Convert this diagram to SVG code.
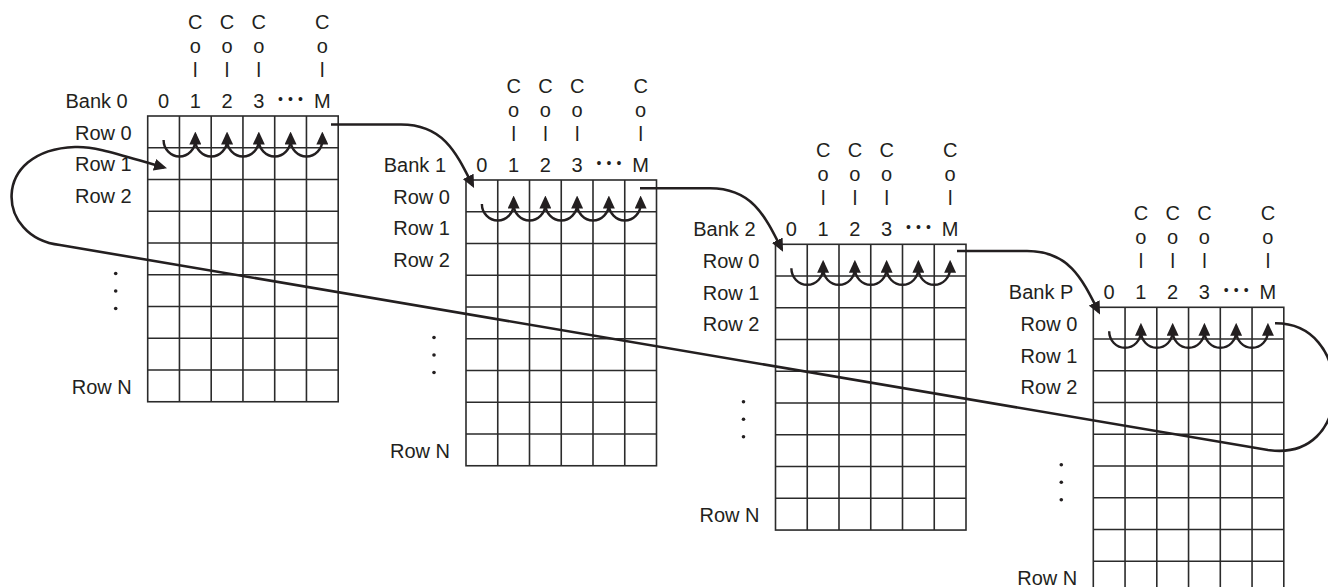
<svg xmlns="http://www.w3.org/2000/svg" xmlns:xlink="http://www.w3.org/1999/xlink" width="1328" height="587" viewBox="0 0 1328 587">
<style>
.t{font-family:"Liberation Sans",Arial,sans-serif;font-size:20px;fill:#231f20}
.e{text-anchor:end}
.m{text-anchor:middle}
.dots{font-family:"Liberation Sans",Arial,sans-serif;font-size:14px;fill:#231f20;letter-spacing:5.1px}
.grid{fill:none;stroke:#2b2b2b;stroke-width:1.6}
.arc{fill:none;stroke:#231f20;stroke-width:2.4;marker-end:url(#ah)}
.conn{fill:none;stroke:#231f20;stroke-width:2.6;marker-end:url(#ah)}
.vd{fill:#231f20}
</style>
<defs>
<marker id="ah" viewBox="0 0 13 12" refX="10" refY="6" markerWidth="13" markerHeight="12" markerUnits="userSpaceOnUse" orient="auto">
<path d="M0,0 L13,6 L0,12 z" fill="#231f20"/>
</marker>
<g id="grid" class="grid">
<rect x="0" y="0" width="190.5" height="285.75"/>
<path d="M31.75,0V285.75M63.5,0V285.75M95.25,0V285.75M127,0V285.75M158.75,0V285.75M0,31.75H190.5M0,63.5H190.5M0,95.25H190.5M0,127H190.5M0,158.75H190.5M0,190.5H190.5M0,222.25H190.5M0,254H190.5"/>
</g>
<g id="arcs" class="arc">
<path d="M15.875,24 A15.875,16.5 0 0 0 47.625,24 V18.5"/>
<path d="M47.625,24 A15.875,16.5 0 0 0 79.375,24 V18.5"/>
<path d="M79.375,24 A15.875,16.5 0 0 0 111.125,24 V18.5"/>
<path d="M111.125,24 A15.875,16.5 0 0 0 142.875,24 V18.5"/>
<path d="M142.875,24 A15.875,16.5 0 0 0 174.625,24 V18.5"/>
</g>
</defs>

<g id="bank0" transform="translate(147.7,116)">
<use href="#grid"/>
<use href="#arcs"/>
<text class="t e" x="-20" y="-8">Bank 0</text>
<text class="t m" x="15.875" y="-8">0</text>
<text class="t m" x="47.625" y="-8">1</text>
<text class="t m" x="79.375" y="-8">2</text>
<text class="t m" x="111.125" y="-8">3</text>
<text class="dots" x="130.4" y="-12">•••</text>
<text class="t m" x="174.625" y="-8">M</text>
<text class="t m"><tspan x="47.625" y="-87">C</tspan><tspan x="47.625" y="-63">o</tspan><tspan x="47.625" y="-39">l</tspan></text>
<text class="t m"><tspan x="79.375" y="-87">C</tspan><tspan x="79.375" y="-63">o</tspan><tspan x="79.375" y="-39">l</tspan></text>
<text class="t m"><tspan x="111.125" y="-87">C</tspan><tspan x="111.125" y="-63">o</tspan><tspan x="111.125" y="-39">l</tspan></text>
<text class="t m"><tspan x="174.625" y="-87">C</tspan><tspan x="174.625" y="-63">o</tspan><tspan x="174.625" y="-39">l</tspan></text>
<text class="t e" x="-16" y="23.5">Row 0</text>
<text class="t e" x="-16" y="55.25">Row 1</text>
<text class="t e" x="-16" y="87">Row 2</text>
<text class="t e" x="-16" y="277.5">Row N</text>
<circle class="vd" cx="-32" cy="157.5" r="1.8"/>
<circle class="vd" cx="-32" cy="175" r="1.8"/>
<circle class="vd" cx="-32" cy="192.5" r="1.8"/>
</g>

<g id="bank1" transform="translate(466,180)">
<use href="#grid"/>
<use href="#arcs"/>
<text class="t e" x="-20" y="-8">Bank 1</text>
<text class="t m" x="15.875" y="-8">0</text>
<text class="t m" x="47.625" y="-8">1</text>
<text class="t m" x="79.375" y="-8">2</text>
<text class="t m" x="111.125" y="-8">3</text>
<text class="dots" x="130.4" y="-12">•••</text>
<text class="t m" x="174.625" y="-8">M</text>
<text class="t m"><tspan x="47.625" y="-87">C</tspan><tspan x="47.625" y="-63">o</tspan><tspan x="47.625" y="-39">l</tspan></text>
<text class="t m"><tspan x="79.375" y="-87">C</tspan><tspan x="79.375" y="-63">o</tspan><tspan x="79.375" y="-39">l</tspan></text>
<text class="t m"><tspan x="111.125" y="-87">C</tspan><tspan x="111.125" y="-63">o</tspan><tspan x="111.125" y="-39">l</tspan></text>
<text class="t m"><tspan x="174.625" y="-87">C</tspan><tspan x="174.625" y="-63">o</tspan><tspan x="174.625" y="-39">l</tspan></text>
<text class="t e" x="-16" y="23.5">Row 0</text>
<text class="t e" x="-16" y="55.25">Row 1</text>
<text class="t e" x="-16" y="87">Row 2</text>
<text class="t e" x="-16" y="277.5">Row N</text>
<circle class="vd" cx="-32" cy="157.5" r="1.8"/>
<circle class="vd" cx="-32" cy="175" r="1.8"/>
<circle class="vd" cx="-32" cy="192.5" r="1.8"/>
</g>

<g id="bank2" transform="translate(775.5,244.3)">
<use href="#grid"/>
<use href="#arcs"/>
<text class="t e" x="-20" y="-8">Bank 2</text>
<text class="t m" x="15.875" y="-8">0</text>
<text class="t m" x="47.625" y="-8">1</text>
<text class="t m" x="79.375" y="-8">2</text>
<text class="t m" x="111.125" y="-8">3</text>
<text class="dots" x="130.4" y="-12">•••</text>
<text class="t m" x="174.625" y="-8">M</text>
<text class="t m"><tspan x="47.625" y="-87">C</tspan><tspan x="47.625" y="-63">o</tspan><tspan x="47.625" y="-39">l</tspan></text>
<text class="t m"><tspan x="79.375" y="-87">C</tspan><tspan x="79.375" y="-63">o</tspan><tspan x="79.375" y="-39">l</tspan></text>
<text class="t m"><tspan x="111.125" y="-87">C</tspan><tspan x="111.125" y="-63">o</tspan><tspan x="111.125" y="-39">l</tspan></text>
<text class="t m"><tspan x="174.625" y="-87">C</tspan><tspan x="174.625" y="-63">o</tspan><tspan x="174.625" y="-39">l</tspan></text>
<text class="t e" x="-16" y="23.5">Row 0</text>
<text class="t e" x="-16" y="55.25">Row 1</text>
<text class="t e" x="-16" y="87">Row 2</text>
<text class="t e" x="-16" y="277.5">Row N</text>
<circle class="vd" cx="-32" cy="157.5" r="1.8"/>
<circle class="vd" cx="-32" cy="175" r="1.8"/>
<circle class="vd" cx="-32" cy="192.5" r="1.8"/>
</g>

<g id="bankP" transform="translate(1093.3,307.3)">
<use href="#grid"/>
<use href="#arcs"/>
<text class="t e" x="-20" y="-8">Bank P</text>
<text class="t m" x="15.875" y="-8">0</text>
<text class="t m" x="47.625" y="-8">1</text>
<text class="t m" x="79.375" y="-8">2</text>
<text class="t m" x="111.125" y="-8">3</text>
<text class="dots" x="130.4" y="-12">•••</text>
<text class="t m" x="174.625" y="-8">M</text>
<text class="t m"><tspan x="47.625" y="-87">C</tspan><tspan x="47.625" y="-63">o</tspan><tspan x="47.625" y="-39">l</tspan></text>
<text class="t m"><tspan x="79.375" y="-87">C</tspan><tspan x="79.375" y="-63">o</tspan><tspan x="79.375" y="-39">l</tspan></text>
<text class="t m"><tspan x="111.125" y="-87">C</tspan><tspan x="111.125" y="-63">o</tspan><tspan x="111.125" y="-39">l</tspan></text>
<text class="t m"><tspan x="174.625" y="-87">C</tspan><tspan x="174.625" y="-63">o</tspan><tspan x="174.625" y="-39">l</tspan></text>
<text class="t e" x="-16" y="23.5">Row 0</text>
<text class="t e" x="-16" y="55.25">Row 1</text>
<text class="t e" x="-16" y="87">Row 2</text>
<text class="t e" x="-16" y="277.5">Row N</text>
<circle class="vd" cx="-32" cy="157.5" r="1.8"/>
<circle class="vd" cx="-32" cy="175" r="1.8"/>
<circle class="vd" cx="-32" cy="192.5" r="1.8"/>
</g>

<g id="connectors">
<path class="conn" d="M331,124.5 H401 C443,124.5 456,152 472.7,185.3"/>
<path class="conn" d="M640,188.3 H710 C752,188.3 765,215.8 781.7,249.1"/>
<path class="conn" d="M957,251 H1027 C1069,251 1082,278.5 1098.7,311.8"/>
<path class="conn" d="M1275,323.3 C1312,323 1334,352 1334,390 C1334,428 1310,456 1268,450 L60,245 C-4,238 -10,150 75,147 C95,146 120,155 164.1,167.5"/>
</g>
</svg>
